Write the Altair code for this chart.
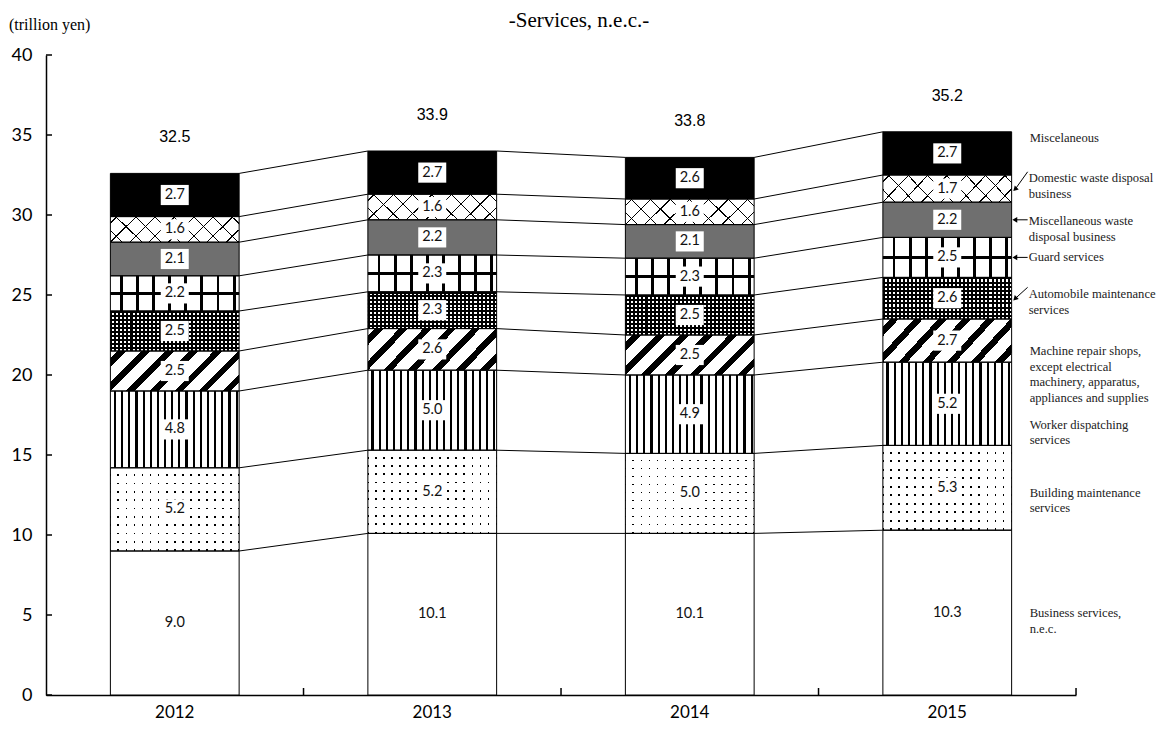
import altair as alt
import pandas as pd

# ---------------- data ----------------
years = ["2012", "2013", "2014", "2015"]
categories = [
    "Business services, n.e.c.",
    "Building maintenance services",
    "Worker dispatching services",
    "Machine repair shops, except electrical machinery, apparatus, appliances and supplies",
    "Automobile maintenance services",
    "Guard services",
    "Miscellaneous waste disposal business",
    "Domestic waste disposal business",
    "Miscelaneous",
]
legend_texts = [
    "Business services,\nn.e.c.",
    "Building maintenance\nservices",
    "Worker dispatching\nservices",
    "Machine repair shops,\nexcept electrical\nmachinery, apparatus,\nappliances and supplies",
    "Automobile maintenance\nservices",
    "Guard services",
    "Miscellaneous waste\ndisposal business",
    "Domestic waste disposal\nbusiness",
    "Miscelaneous",
]
business = [9.0, 10.1, 10.1, 10.3]
building = [5.2, 5.2, 5.0, 5.3]
worker = [4.8, 5.0, 4.9, 5.2]
machine = [2.5, 2.6, 2.5, 2.7]
automobile = [2.5, 2.3, 2.5, 2.6]
guard = [2.2, 2.3, 2.3, 2.5]
misc_waste = [2.1, 2.2, 2.1, 2.2]
domestic_waste = [1.6, 1.6, 1.6, 1.7]
miscellaneous = [2.7, 2.7, 2.6, 2.7]
totals = [32.5, 33.9, 33.8, 35.2]
y_ticks = [0, 5, 10, 15, 20, 25, 30, 35, 40]

series = [business, building, worker, machine, automobile, guard,
          misc_waste, domestic_waste, miscellaneous]

# layout nudges for the right-hand labels (in axis units) - styling only
legend_nudge = [-0.05, -0.3, -1.3, -0.65, 0.25, 0.0, -0.1, 0.65, 0.95]
arrow_tail = {7: 1.05, 6: 0.0, 5: 0.0, 4: 0.68}
arrow_angle = {7: 225, 6: 270, 5: 270, 4: 225}

rows = []
for yi, yr in enumerate(years):
    cum = 0.0
    for ci, cat in enumerate(categories):
        v = series[ci][yi]
        rows.append(dict(year=yr, cat=cat, idx=ci, value=v, y0=cum, y1=cum + v,
                         mid=cum + v / 2, label=f"{v:.1f}"))
        cum += v
df = pd.DataFrame(rows)

conn = []
for yi in range(len(years) - 1):
    for ci in range(len(categories)):
        a = df[(df.year == years[yi]) & (df.idx == ci)].iloc[0]
        b = df[(df.year == years[yi + 1]) & (df.idx == ci)].iloc[0]
        conn.append(dict(year=years[yi], nyear=years[yi + 1], top=a.y1, ntop=b.y1))
conn_df = pd.DataFrame(conn)

tot_df = pd.DataFrame(dict(
    year=years,
    top=[df[df.year == y].y1.max() for y in years],
    label=[f"{t:.1f}" for t in totals],
))

last = df[df.year == years[-1]].reset_index(drop=True)
leg_df = pd.DataFrame(dict(
    year=years[-1],
    y=[last.mid[i] + legend_nudge[i] for i in range(len(categories))],
    text=legend_texts,
    arrow=[i in arrow_tail for i in range(len(categories))],
))
arr_df = pd.DataFrame(dict(
    year=years[-1],
    head=[last.mid[i] for i in arrow_tail],
    tail=[last.mid[i] + arrow_tail[i] for i in arrow_tail],
    angle=[arrow_angle[i] for i in arrow_tail],
))
tick_df = pd.DataFrame(dict(v=y_ticks))
xt_df = pd.DataFrame(dict(year=years))

# ---------------- pattern helpers (styling) ----------------
CLEAR = "rgba(255,255,255,0)"


def stripes(n, frac, fg, bg, x1=0, y1=0, x2=1, y2=0, phase=0.0):
    stops = []
    for i in range(n):
        a = (i + phase) / n
        b = (i + phase + frac) / n
        c = (i + 1) / n
        a0 = i / n
        stops += [
            {"offset": round(a0, 5), "color": bg},
            {"offset": round(min(a, 1), 5), "color": bg},
            {"offset": round(min(a, 1), 5), "color": fg},
            {"offset": round(min(b, 1), 5), "color": fg},
            {"offset": round(min(b, 1), 5), "color": bg},
            {"offset": round(c, 5), "color": bg},
        ]
    return {"gradient": "linear", "x1": x1, "y1": y1, "x2": x2, "y2": y2, "stops": stops}


def vstripes(n, frac, fg, bg=CLEAR, phase=0.0):
    return stripes(n, frac, fg, bg, 0, 0, 1, 0, phase)


def hstripes(n, frac, fg, bg=CLEAR, phase=0.0):
    return stripes(n, frac, fg, bg, 0, 0, 0, 1, phase)


mid_line = {"gradient": "linear", "x1": 0, "y1": 0, "x2": 0, "y2": 1, "stops": [
    {"offset": 0, "color": CLEAR}, {"offset": 0.46, "color": CLEAR},
    {"offset": 0.46, "color": "black"}, {"offset": 0.54, "color": "black"},
    {"offset": 0.54, "color": CLEAR}, {"offset": 1, "color": CLEAR}]}

fills = {
    0: ["white"],
    1: ["black", hstripes(10, 0.78, "white", phase=0.0), vstripes(16, 0.78, "white", phase=0.1)],
    2: ["white", vstripes(18, 0.3, "black", phase=0.5)],
    3: ["white", stripes(7, 0.36, "black", CLEAR, 0, 0, 1.195, 0.371, 0.3)],
    4: ["white", vstripes(32, 0.5, "black"), hstripes(10, 0.5, "black")],
    5: ["white", vstripes(8, 0.18, "black", phase=0.6), mid_line],
    6: ["#6f6f6f"],
    7: ["white",
        stripes(8, 0.07, "black", CLEAR, 0, 0, 1.155, 0.233, 0.3),
        stripes(8, 0.06, "black", CLEAR, 0, 1, 1.155, 0.767, 0.6)],
    8: ["black"],
}

# ---------------- encodings ----------------
xscale = alt.Scale(domain=years, paddingInner=0.5, paddingOuter=0.25)
yscale = alt.Scale(domain=[0, 40], nice=False, zero=True)
xaxis = alt.Axis(title=None, ticks=False, domainColor="black", domainWidth=1.5,
                 labelFont="Lato", labelFontSize=17, labelColor="black",
                 labelPadding=9, labelAngle=0)
yaxis = alt.Axis(title=None, ticks=False, domainColor="black", domainWidth=1.5,
                 values=y_ticks, labelFont="Lato", labelFontSize=18,
                 labelColor="black", labelPadding=14, grid=False)

X = alt.X("year:N", scale=xscale, axis=xaxis)
base = alt.Chart(df)

layers = []
for ci in range(len(categories)):
    for f in fills[ci]:
        layers.append(
            base.transform_filter(alt.datum.idx == ci)
            .mark_bar(fill=f, strokeWidth=0)
            .encode(x=X, y=alt.Y("y0:Q", scale=yscale, axis=yaxis), y2="y1:Q")
        )

outline = base.mark_bar(fillOpacity=0, stroke="black", strokeWidth=1).encode(
    x=X, y=alt.Y("y0:Q", scale=yscale, axis=yaxis), y2="y1:Q")

boxes = base.transform_filter(alt.datum.idx > 0).mark_point(
    shape="M-1,-0.72L1,-0.72L1,0.72L-1,0.72Z", filled=True, fill="white",
    opacity=1, strokeWidth=0, size=784).encode(
    x=X, y=alt.Y("mid:Q", scale=yscale, axis=yaxis))

texts = base.mark_text(font="Lato", fontSize=14.5, color="#111111").encode(
    x=X, y=alt.Y("mid:Q", scale=yscale, axis=yaxis), text="label:N")

connectors = alt.Chart(conn_df).mark_rule(color="black", strokeWidth=1).encode(
    x=alt.X("year:N", scale=xscale, axis=xaxis, bandPosition=1),
    x2=alt.X2("nyear", bandPosition=0),
    y=alt.Y("top:Q", scale=yscale, axis=yaxis), y2="ntop:Q")

total_text = alt.Chart(tot_df).mark_text(font="Liberation Sans", fontSize=16,
                                          color="black", dy=-36).encode(
    x=X, y=alt.Y("top:Q", scale=yscale, axis=yaxis), text="label:N")

legend_plain = alt.Chart(leg_df).transform_filter(~alt.datum.arrow).mark_text(
    font="Liberation Serif", fontSize=12.6, color="#222222", align="left",
    baseline="middle", dx=18, lineHeight=15.5, lineBreak="\n").encode(
    x=alt.X("year:N", scale=xscale, axis=xaxis, bandPosition=1),
    y=alt.Y("y:Q", scale=yscale, axis=yaxis), text="text:N")

legend_arrow = alt.Chart(leg_df).transform_filter(alt.datum.arrow).mark_text(
    font="Liberation Serif", fontSize=12.6, color="#222222", align="left",
    baseline="middle", dx=17, lineHeight=15.5, lineBreak="\n").encode(
    x=alt.X("year:N", scale=xscale, axis=xaxis, bandPosition=1),
    y=alt.Y("y:Q", scale=yscale, axis=yaxis), text="text:N")

arrow_lines = alt.Chart(arr_df).mark_rule(color="black", strokeWidth=1,
                                          xOffset=4, x2Offset=16).encode(
    x=alt.X("year:N", scale=xscale, axis=xaxis, bandPosition=1),
    x2=alt.X2("year", bandPosition=1),
    y=alt.Y("head:Q", scale=yscale, axis=yaxis), y2="tail:Q")

arrow_heads = alt.Chart(arr_df).mark_point(shape="triangle", filled=True,
                                           color="black", opacity=1, size=32,
                                           xOffset=4).encode(
    x=alt.X("year:N", scale=xscale, axis=xaxis, bandPosition=1),
    y=alt.Y("head:Q", scale=yscale, axis=yaxis),
    angle=alt.Angle("angle:Q", scale=None))

ytick_marks = alt.Chart(tick_df).mark_rule(color="black", strokeWidth=1.5).encode(
    x=alt.value(0), x2=alt.value(6), y=alt.Y("v:Q", scale=yscale, axis=yaxis))

xtick_marks = alt.Chart(xt_df).mark_rule(color="black", strokeWidth=1.5,
                                         xOffset=64.4).encode(
    x=alt.X("year:N", scale=xscale, axis=xaxis, bandPosition=1),
    y=alt.value(640), y2=alt.value(633))

title_text = alt.Chart(pd.DataFrame(dict(t=["-Services, n.e.c.-"]))).mark_text(
    font="Liberation Serif", fontSize=21, color="black", align="center",
    baseline="middle").encode(x=alt.value(533), y=alt.value(-34), text="t:N")

unit_text = alt.Chart(pd.DataFrame(dict(t=["(trillion yen)"]))).mark_text(
    font="Liberation Serif", fontSize=16, color="black", align="left",
    baseline="middle").encode(x=alt.value(-37), y=alt.value(-30), text="t:N")

chart = alt.layer(
    *layers, outline, connectors, boxes, texts, total_text,
    legend_plain, legend_arrow, arrow_lines, arrow_heads,
    ytick_marks, xtick_marks, title_text, unit_text,
).properties(
    width=1030, height=640,
    background="white",
    autosize=alt.AutoSizeParams(type="none"),
    padding={"left": 38, "top": 47, "right": 81, "bottom": 26},
).configure_view(stroke=None)

chart.save("out.html", embed_options={"renderer": "svg", "actions": False})
